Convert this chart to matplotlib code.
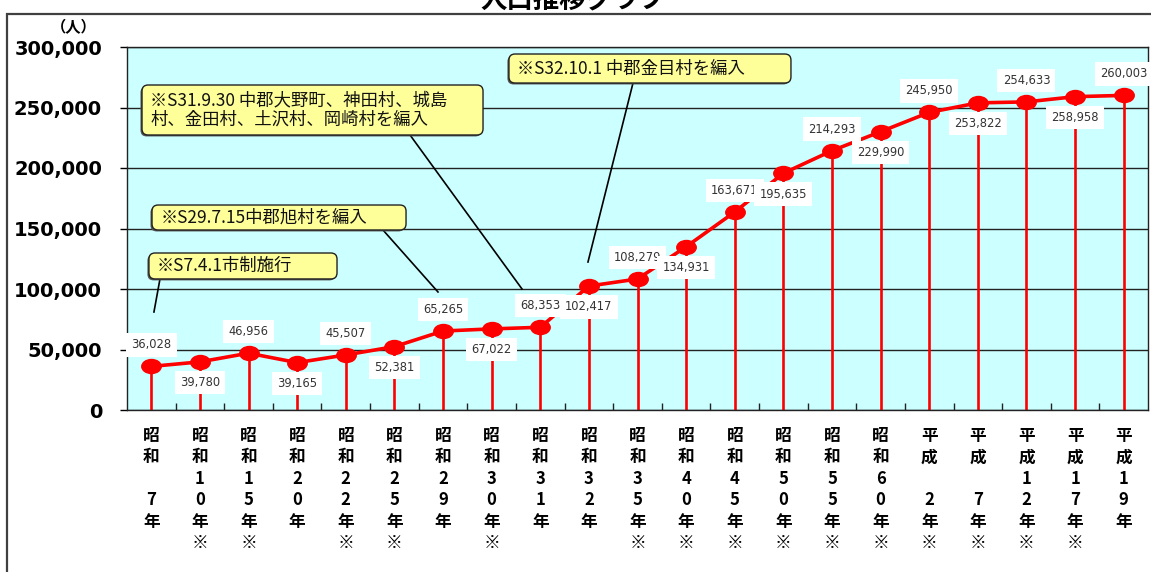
import numpy as np
import matplotlib
matplotlib.use("Agg")
import matplotlib.pyplot as plt
from matplotlib.path import Path
from matplotlib.patches import FancyBboxPatch, Rectangle
from matplotlib.ticker import FuncFormatter, FixedLocator

plt.rcParams['font.family'] = ['Noto Sans CJK JP', 'DejaVu Sans']

# 和暦の区分・年・注記(※)の有無
eras = ['昭和'] * 16 + ['平成'] * 5
years = ['7', '10', '15', '20', '22', '25', '29', '30', '31', '32', '35',
         '40', '45', '50', '55', '60', '2', '7', '12', '17', '19']
marks = [False, True, True, False, True, True, False, True, False, False, True,
         True, True, True, True, True, True, True, True, True, False]
population = [36028, 39780, 46956, 39165, 45507, 52381, 65265, 67022, 68353,
              102417, 108279, 134931, 163671, 195635, 214293, 229990, 245950,
              253822, 254633, 258958, 260003]

# 合併・市制の注記 (テキスト, 枠[x0, y0, x1, y1], 引出線[始点, 終点]) ※軸座標
notes = [
    ('※S7.4.1市制施行', (0.0215, 0.361, 0.2057, 0.4325),
     ((0.0323, 0.361), (0.0264, 0.270))),
    ('※S29.7.15中郡旭村を編入', (0.0245, 0.4959, 0.2733, 0.5647),
     ((0.2507, 0.4959), (0.3046, 0.3251))),
    ('※S31.9.30 中郡大野町、神田村、城島\n村、金田村、土沢村、岡崎村を編入',
     (0.0147, 0.7576, 0.3487, 0.8953),
     ((0.2772, 0.7576), (0.3869, 0.3333))),
    ('※S32.10.1 中郡金目村を編入', (0.3741, 0.9008, 0.6503, 0.9807),
     ((0.4956, 0.9008), (0.4515, 0.4077))),
]


def tick_label(era, year, mark):
    # 縦書き: 元号2文字, 年の数字を1文字ずつ, 「年」, 注記
    digits = list(year) if len(year) == 2 else ['', year]
    chars = list(era) + digits + ['年'] + (['※'] if mark else [])
    return '\n'.join(chars)


W, H = 1151, 572
fig = plt.figure(figsize=(W / 100, H / 100), dpi=100)
ax = fig.add_axes([127 / W, (H - 410) / H, 1021 / W, 363 / H])
ax.set_facecolor('#CCFFFF')

# 外枠とタイトル
fig.add_artist(Rectangle((7 / W, -0.1), 1.2, 1.1 - 14 / H, transform=fig.transFigure,
                         fill=False, ec='#404040', lw=1.6))
fig.text(573 / W, 1 - 1 / H, '人口推移グラフ', ha='center', va='center',
         fontsize=19, fontweight='bold')
fig.text(74 / W, 1 - 27 / H, '（人）', ha='center', va='center',
         fontsize=11, fontweight='bold')

x = np.arange(len(population))
pop = np.array(population)

ax.set_xlim(-0.5, len(x) - 0.5)
ax.set_ylim(0, 300000)
ax.set_yticks(np.arange(0, 300001, 50000))
ax.yaxis.set_major_formatter(FuncFormatter(lambda v, p: f'{int(v):,}'))
ax.grid(axis='y', color='#222222', lw=1.0, zorder=1)
ax.set_axisbelow(True)
for s in ax.spines.values():
    s.set_color('#222222')
    s.set_linewidth(1.0)

ax.tick_params(axis='y', direction='out', length=5, width=1, pad=13,
               labelsize=14)
for t in ax.get_yticklabels():
    t.set_fontweight('bold')
    t.set_family('DejaVu Sans')

ax.set_xticks(x)
ax.set_xticklabels([tick_label(e, y, m) for e, y, m in zip(eras, years, marks)],
                   fontsize=12, fontweight='bold', linespacing=1.25, va='top')
ax.tick_params(axis='x', which='major', length=0, pad=12)
ax.xaxis.set_minor_locator(FixedLocator(np.arange(0.5, len(x) - 1, 1.0)))
ax.tick_params(axis='x', which='minor', direction='in', length=5, width=1,
               color='#222222')

# 各点から基線への縦線
ax.vlines(x, 0, pop, color='#FF0000', lw=1.9, zorder=2)

# 楕円形のマーカー
circ = Path.unit_circle()
ellipse = Path(circ.vertices * np.array([1.0, 0.72]), circ.codes)
ax.plot(x, pop, color='#FF0000', lw=2.6, marker=ellipse, markersize=14,
        markerfacecolor='#FF0000', markeredgecolor='#FF0000', zorder=3)

# データラベル (上下交互)
for i, v in enumerate(population):
    dy = 15.5 if i % 2 == 0 else -15
    ax.annotate(f'{v:,}', (i, v), xytext=(0, dy), textcoords='offset points',
                ha='center', va='center', fontsize=8.3, color='#333333',
                family='DejaVu Sans', zorder=5,
                bbox=dict(boxstyle='square,pad=0.45', fc='white', ec='none'))

# 注記の吹き出し
aspect = 1021 / 363
for text, (x0, y0, x1, y1), (p0, p1) in notes:
    ax.plot([p0[0], p1[0]], [p0[1], p1[1]], color='black', lw=1.2,
            transform=ax.transAxes, zorder=6)
    shadow = FancyBboxPatch((x0 - 0.0015, y0 - 0.004), x1 - x0, y1 - y0,
                            boxstyle='round,pad=0,rounding_size=0.006',
                            mutation_aspect=aspect, transform=ax.transAxes,
                            fc='#555555', ec='none', zorder=6.5)
    ax.add_patch(shadow)
    box = FancyBboxPatch((x0, y0), x1 - x0, y1 - y0,
                         boxstyle='round,pad=0,rounding_size=0.006',
                         mutation_aspect=aspect, transform=ax.transAxes,
                         fc='#FFFF99', ec='#222222', lw=1.0, zorder=7)
    ax.add_patch(box)
    ax.text(x0 + 0.008, (y0 + y1) / 2, text, transform=ax.transAxes,
            ha='left', va='center', fontsize=12.5, linespacing=1.1,
            color='#111111', zorder=8)

fig.savefig('out.png', dpi=100)
